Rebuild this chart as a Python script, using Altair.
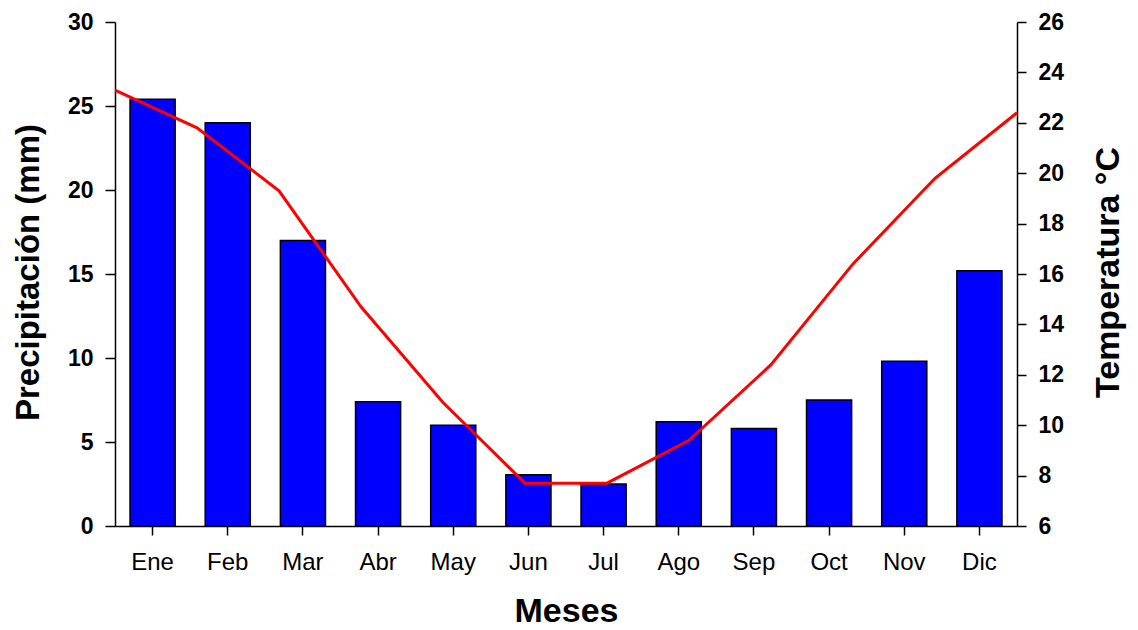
import altair as alt
import pandas as pd

meses = ["Ene", "Feb", "Mar", "Abr", "May", "Jun", "Jul", "Ago", "Sep", "Oct", "Nov", "Dic"]
precipitacion = [25.4, 24.0, 17.0, 7.4, 6.0, 3.05, 2.5, 6.2, 5.8, 7.5, 9.8, 15.2]
temperatura = [23.3, 21.8, 19.3, 14.7, 10.9, 7.7, 7.7, 9.4, 12.4, 16.4, 19.8, 22.4]
precip_ticks = [0, 5, 10, 15, 20, 25, 30]
temp_ticks = [6, 8, 10, 12, 14, 16, 18, 20, 22, 24, 26]

df = pd.DataFrame({
    "Mes": meses,
    "Precip": precipitacion,
    "Temp": temperatura,
    "idx": list(range(len(meses))),
})

FONT = "Liberation Sans"

bars = alt.Chart(df).mark_bar(color="#0000FF", stroke="black", strokeWidth=1.5).encode(
    x=alt.X("Mes:N", sort=meses,
            scale=alt.Scale(paddingInner=0.4, paddingOuter=0.2),
            axis=alt.Axis(title="Meses", labelAngle=0, labelFontSize=24,
                          labelFontWeight="normal", labelPadding=15,
                          titleFontSize=34, titleFontWeight="bold",
                          titleY=95, titleBaseline="alphabetic")),
    y=alt.Y("Precip:Q", scale=alt.Scale(domain=[0, 30], nice=False),
            axis=alt.Axis(values=precip_ticks, title="Precipitación (mm)", orient="left",
                          labelFontSize=23, labelFontWeight="bold", labelPadding=12,
                          tickSize=10, titleFontSize=33, titleFontWeight="bold",
                          titleAngle=270, titleX=-77, titleY=250,
                          titleBaseline="alphabetic", titleAlign="center")),
)

line = alt.Chart(df).mark_line(color="#FF0000", strokeWidth=3).encode(
    x=alt.X("idx:Q", scale=alt.Scale(domain=[0, 11], nice=False, zero=False), axis=None),
    y=alt.Y("Temp:Q", scale=alt.Scale(domain=[6, 26], nice=False, zero=False),
            axis=alt.Axis(values=temp_ticks, title="Temperatura °C", orient="right",
                          labelFontSize=23, labelFontWeight="bold", labelPadding=12,
                          tickSize=9, titleFontSize=34, titleFontWeight="bold",
                          titleAngle=270, titleX=101, titleY=250,
                          titleBaseline="alphabetic", titleAlign="center")),
)

chart = alt.layer(bars, line).resolve_scale(
    x="independent", y="independent"
).properties(
    width=902, height=504,
    padding={"left": 107, "top": 14, "right": 113, "bottom": 104},
    autosize=alt.AutoSizeParams(type="none"),
    background="white",
).configure_view(
    stroke=None
).configure_axis(
    grid=False, domainColor="black", domainWidth=1.5, tickColor="black",
    tickWidth=1.5, tickSize=9, labelFont=FONT, titleFont=FONT,
    labelColor="black", titleColor="black",
)

chart.save("out.html", embed_options={"renderer": "svg", "actions": False})
